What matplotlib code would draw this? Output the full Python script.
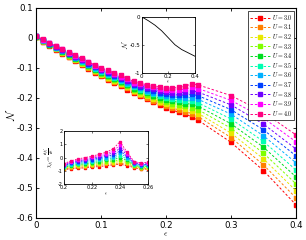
import numpy as np
import matplotlib
matplotlib.use("Agg")
import matplotlib.pyplot as plt

plt.rcParams['mathtext.fontset'] = 'cm'
plt.rcParams['font.family'] = 'DejaVu Sans'

# main panel: N(eps) for each U
eps = [0, 0.01, 0.02, 0.03, 0.04, 0.05, 0.06, 0.07, 0.08, 0.09, 0.10, 0.11, 0.12, 0.13,
       0.14, 0.15, 0.16, 0.17, 0.18, 0.19, 0.20, 0.21, 0.22, 0.23, 0.24, 0.25, 0.30, 0.35, 0.40]
U_vals = ['3.0', '3.1', '3.2', '3.3', '3.4', '3.5', '3.6', '3.7', '3.8', '3.9', '4.0']
colors = ['#ff0000', '#ff8000', '#e8e800', '#80ff00', '#00dd20', '#00ffb0',
          '#00b0ff', '#0040ff', '#7000ff', '#ff00ff', '#ff0080']

N_30 = [0.002,-0.013,-0.026,-0.039,-0.052,-0.064,-0.077,-0.090,-0.103,-0.116,-0.128,-0.139,-0.150,-0.161,-0.172,-0.185,-0.195,-0.205,-0.215,-0.224,-0.233,-0.241,-0.248,-0.255,-0.262,-0.275,-0.348,-0.442,-0.556]
N_31 = [0.003,-0.012,-0.025,-0.038,-0.050,-0.062,-0.075,-0.088,-0.101,-0.113,-0.125,-0.136,-0.147,-0.157,-0.168,-0.181,-0.190,-0.200,-0.209,-0.218,-0.226,-0.234,-0.240,-0.246,-0.252,-0.263,-0.332,-0.423,-0.533]
N_32 = [0.003,-0.011,-0.024,-0.037,-0.049,-0.061,-0.073,-0.086,-0.098,-0.111,-0.122,-0.133,-0.143,-0.154,-0.164,-0.177,-0.186,-0.195,-0.204,-0.212,-0.220,-0.226,-0.231,-0.237,-0.242,-0.252,-0.317,-0.403,-0.509]
N_33 = [0.004,-0.011,-0.023,-0.035,-0.047,-0.059,-0.071,-0.083,-0.096,-0.108,-0.120,-0.130,-0.140,-0.150,-0.161,-0.173,-0.181,-0.190,-0.198,-0.206,-0.213,-0.219,-0.223,-0.228,-0.232,-0.240,-0.301,-0.384,-0.486]
N_34 = [0.004,-0.010,-0.022,-0.034,-0.046,-0.057,-0.069,-0.081,-0.093,-0.106,-0.117,-0.127,-0.137,-0.147,-0.157,-0.169,-0.177,-0.185,-0.193,-0.200,-0.207,-0.211,-0.215,-0.219,-0.221,-0.228,-0.286,-0.364,-0.463]
N_35 = [0.005,-0.009,-0.021,-0.033,-0.044,-0.055,-0.067,-0.079,-0.091,-0.103,-0.114,-0.124,-0.134,-0.143,-0.153,-0.165,-0.172,-0.180,-0.187,-0.194,-0.200,-0.204,-0.207,-0.210,-0.210,-0.217,-0.270,-0.345,-0.440]
N_36 = [0.006,-0.008,-0.020,-0.032,-0.043,-0.054,-0.066,-0.077,-0.089,-0.100,-0.111,-0.120,-0.130,-0.139,-0.149,-0.161,-0.168,-0.176,-0.182,-0.188,-0.193,-0.197,-0.198,-0.200,-0.199,-0.205,-0.254,-0.326,-0.416]
N_37 = [0.006,-0.007,-0.019,-0.031,-0.041,-0.052,-0.064,-0.075,-0.086,-0.098,-0.108,-0.117,-0.127,-0.136,-0.145,-0.157,-0.163,-0.171,-0.176,-0.182,-0.187,-0.189,-0.190,-0.191,-0.188,-0.193,-0.239,-0.306,-0.393]
N_38 = [0.007,-0.007,-0.018,-0.029,-0.040,-0.050,-0.062,-0.072,-0.084,-0.095,-0.106,-0.114,-0.124,-0.132,-0.142,-0.153,-0.159,-0.166,-0.171,-0.176,-0.180,-0.182,-0.182,-0.181,-0.176,-0.181,-0.223,-0.287,-0.370]
N_39 = [0.007,-0.006,-0.017,-0.028,-0.038,-0.049,-0.060,-0.070,-0.081,-0.093,-0.103,-0.111,-0.120,-0.129,-0.138,-0.149,-0.154,-0.161,-0.165,-0.170,-0.174,-0.174,-0.173,-0.171,-0.164,-0.169,-0.208,-0.267,-0.346]
N_40 = [0.008,-0.005,-0.016,-0.027,-0.037,-0.047,-0.058,-0.068,-0.079,-0.090,-0.100,-0.108,-0.117,-0.125,-0.134,-0.145,-0.150,-0.156,-0.160,-0.164,-0.167,-0.167,-0.165,-0.161,-0.152,-0.157,-0.192,-0.248,-0.323]
N_all = [N_30, N_31, N_32, N_33, N_34, N_35, N_36, N_37, N_38, N_39, N_40]

# lower inset: chi_N = dN/deps
eps_chi = [0.200, 0.205, 0.210, 0.215, 0.220, 0.225, 0.230, 0.235, 0.240, 0.245, 0.250, 0.255, 0.260]
chi_30 = [-0.90,-0.85,-0.80,-0.78,-0.72,-0.68,-0.62,-0.55,-0.50,-0.62,-0.75,-0.90,-0.85]
chi_31 = [-0.86,-0.79,-0.73,-0.70,-0.64,-0.59,-0.52,-0.47,-0.40,-0.52,-0.71,-0.85,-0.80]
chi_32 = [-0.81,-0.73,-0.66,-0.62,-0.56,-0.49,-0.42,-0.38,-0.28,-0.42,-0.66,-0.80,-0.75]
chi_33 = [-0.77,-0.67,-0.59,-0.55,-0.47,-0.40,-0.31,-0.28,-0.15,-0.31,-0.62,-0.75,-0.70]
chi_34 = [-0.72,-0.61,-0.52,-0.47,-0.39,-0.31,-0.21,-0.17,0.00,-0.21,-0.57,-0.70,-0.65]
chi_35 = [-0.68,-0.55,-0.45,-0.39,-0.31,-0.22,-0.11,-0.05,0.15,-0.11,-0.53,-0.65,-0.60]
chi_36 = [-0.63,-0.49,-0.38,-0.31,-0.23,-0.12,-0.01,0.07,0.32,-0.01,-0.48,-0.60,-0.55]
chi_37 = [-0.59,-0.43,-0.31,-0.23,-0.15,-0.03,0.09,0.20,0.50,0.09,-0.44,-0.55,-0.50]
chi_38 = [-0.54,-0.37,-0.24,-0.16,-0.06,0.06,0.20,0.34,0.70,0.20,-0.39,-0.50,-0.45]
chi_39 = [-0.50,-0.31,-0.17,-0.08,0.02,0.16,0.30,0.49,0.93,0.30,-0.35,-0.45,-0.40]
chi_40 = [-0.45,-0.25,-0.10,0.00,0.10,0.25,0.40,0.65,1.20,0.40,-0.30,-0.40,-0.35]
chi_all = [chi_30, chi_31, chi_32, chi_33, chi_34, chi_35, chi_36, chi_37, chi_38, chi_39, chi_40]

# upper inset: single black curve
eps_in = [0, 0.05, 0.10, 0.15, 0.20, 0.25, 0.30, 0.35, 0.40]
N_in = [0, -0.07, -0.15, -0.25, -0.375, -0.50, -0.585, -0.645, -0.705]

fig = plt.figure(figsize=(3.06, 2.4), dpi=100)
ax = fig.add_axes([0.118, 0.092, 0.849, 0.875])

for k in range(len(U_vals)):
    ax.plot(eps, N_all[k], ls=(0, (2.5, 2)), lw=0.7, color=colors[k],
            marker='s', ms=2.6, mec=colors[k], mfc=colors[k],
            label=r'$U = %s$' % U_vals[k])

ax.set_xlim(0, 0.4)
ax.set_ylim(-0.6, 0.1)
ax.set_xticks([0, 0.1, 0.2, 0.3, 0.4])
ax.set_xticklabels(['0', '0.1', '0.2', '0.3', '0.4'])
ax.set_yticks([0.1, 0, -0.1, -0.2, -0.3, -0.4, -0.5, -0.6])
ax.set_yticklabels(['0.1', '0', '-0.1', '-0.2', '-0.3', '-0.4', '-0.5', '-0.6'])
ax.tick_params(direction='in', length=2.5, width=0.6, labelsize=6.2, top=True, right=True, pad=2)
for s in ax.spines.values():
    s.set_linewidth(0.8)
ax.set_xlabel(r'$\epsilon$', fontsize=6, labelpad=0)
ax.set_ylabel(r'$\mathcal{N}$', fontsize=7.5, labelpad=0)
ax.yaxis.set_label_coords(-0.075, 0.49)

leg = ax.legend(loc='upper right', bbox_to_anchor=(0.993, 0.986), borderaxespad=0,
                fontsize=4.4, fancybox=False, framealpha=1, edgecolor='black',
                handlelength=3.2, handletextpad=0.3, labelspacing=0.1,
                borderpad=0.3, markerscale=0.9)
leg.get_frame().set_linewidth(0.5)

# upper inset
ax1 = fig.add_axes([0.463, 0.697, 0.174, 0.233])
ax1.plot(eps_in, N_in, color='black', lw=0.6)
ax1.set_xlim(0, 0.4)
ax1.set_ylim(-1, 0)
ax1.set_xticks([0, 0.2, 0.4])
ax1.set_xticklabels(['0', '0.2', '0.4'])
ax1.set_yticks([-1, -0.5, 0])
ax1.set_yticklabels(['-1', '-0.5', '0'])
ax1.tick_params(direction='in', length=1.5, width=0.4, labelsize=4, top=True, right=True, pad=1)
for s in ax1.spines.values():
    s.set_linewidth(0.6)
ax1.set_xlabel(r'$\epsilon$', fontsize=3.5, labelpad=0)
ax1.set_ylabel(r'$\mathcal{N}$', fontsize=5, labelpad=0)

# lower inset
ax2 = fig.add_axes([0.209, 0.233, 0.275, 0.221])
for k in range(len(U_vals)):
    ax2.plot(eps_chi, chi_all[k], ls=(0, (2, 1.5)), lw=0.6, color=colors[k],
             marker='s', ms=1.6, mec=colors[k], mfc=colors[k])
ax2.set_xlim(0.2, 0.26)
ax2.set_ylim(-2, 2)
ax2.set_xticks([0.2, 0.22, 0.24, 0.26])
ax2.set_xticklabels(['0.2', '0.22', '0.24', '0.26'])
ax2.set_yticks([-2, -1, 0, 1, 2])
ax2.set_yticklabels(['-2', '-1', '0', '1', '2'])
ax2.tick_params(direction='in', length=1.5, width=0.4, labelsize=3.6, top=True, right=True, pad=1)
for s in ax2.spines.values():
    s.set_linewidth(0.6)
ax2.set_xlabel(r'$\epsilon$', fontsize=3.5, labelpad=0)
ax2.set_ylabel(r'$\chi_{\mathcal{N}} = \frac{\partial\mathcal{N}}{\partial\epsilon}$', fontsize=4, labelpad=1)

fig.savefig('out.png', dpi=100)
